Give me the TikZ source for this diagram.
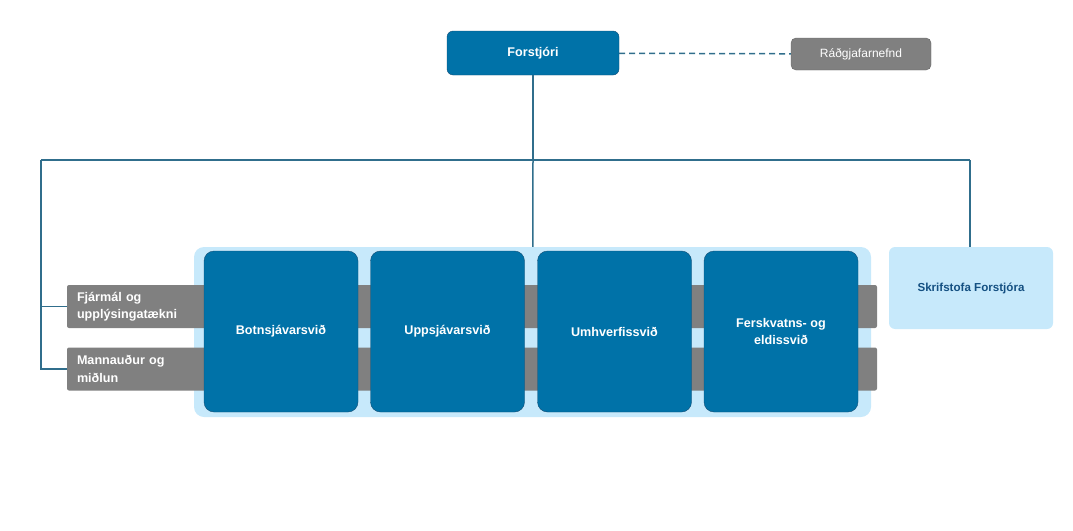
\documentclass[tikz,border=0pt]{standalone}
\usepackage{fontspec}
\setmainfont{Liberation Sans}
\usepackage{tikz}
\usetikzlibrary{arrows.meta}
\usetikzlibrary{calc}

\definecolor{svid_blue}{RGB}{0,114,168}
\definecolor{svid_edge}{RGB}{20,78,118}
\definecolor{pale_blue}{RGB}{199,233,251}
\definecolor{bar_gray}{RGB}{128,128,128}
\definecolor{link_blue}{RGB}{48,110,140}
\definecolor{office_text}{RGB}{20,80,130}

\begin{document}
\begin{tikzpicture}[x=1pt, y=-1pt, font=\bfseries\fontsize{12.6}{17.5}\selectfont,
        head_style/.style={rectangle,rounded corners=6pt,draw=svid_edge,fill=svid_blue,text=white,
            minimum width=172pt,minimum height=44pt,inner sep=0pt},
        council_style/.style={rectangle,rounded corners=5pt,draw=black!60,fill=bar_gray,text=white,
            font=\fontsize{12}{14}\selectfont,minimum width=140pt,minimum height=32pt,inner sep=0pt},
        frame_style/.style={rectangle,rounded corners=10pt,fill=pale_blue,
            minimum width=677pt,minimum height=170pt,inner sep=0pt},
        bar_style/.style={rectangle,rounded corners=2pt,fill=bar_gray,text=white,
            minimum width=810pt,minimum height=43pt,text width=790pt,align=left,inner xsep=10pt,inner ysep=0pt},
        svid_style/.style={rectangle,rounded corners=10pt,draw=svid_edge,fill=svid_blue,text=white,
            minimum width=154pt,minimum height=161pt,align=center,inner sep=0pt},
        office_style/.style={rectangle,rounded corners=6pt,fill=pale_blue,text=office_text,
            font=\bfseries\fontsize{11.6}{14}\selectfont,minimum width=164pt,minimum height=82pt,inner sep=0pt},
        edge_style/.style={draw=link_blue, line width=1.5pt,-},
        dashed_edge_style/.style={draw=link_blue, line width=1.5pt, dash pattern=on 6pt off 4pt,-}]

        \useasboundingbox (0,0) rectangle (1073,530);

        \node [head_style](n1) at (533,53) {Forstjóri};
        \node [council_style](n2) at (861,54) {Ráðgjafarnefnd};
        \node [frame_style](n3) at (532.5,332) {};
        \node [bar_style](n4) at (472,306.5) {Fjármál og\\upplýsingatækni};
        \node [bar_style](n5) at (472,369) {Mannauður og\\miðlun};
        \node [svid_style](n6) at (281,331.5) {Botnsjávarsvið};
        \node [svid_style](n7) at (447.5,331.5) {Uppsjávarsvið};
        \node [svid_style](n8) at (614.5,331.5) {Umhverfissvið};
        \node [svid_style](n9) at (781,331.5) {Ferskvatns- og\\eldissvið};
        \node [office_style](n10) at (971,288) {Skrifstofa Forstjóra};

        \coordinate (c1) at (533,160);
        \coordinate (c2) at (41,160);
        \coordinate (c3) at (970,160);

        \draw [dashed_edge_style] (n1) -- (n2);
        \draw [edge_style] (n1) -- (c1);
        \draw [edge_style] (c2) -- (c3);
        \draw [edge_style] (c1) -- (n3);
        \draw [edge_style] (c3) -- (c3 |- n10.north);
        \draw [edge_style] (c2) |- (n4.west);
        \draw [edge_style] (c2) |- (n5.west);
        \end{tikzpicture}
\end{document}
